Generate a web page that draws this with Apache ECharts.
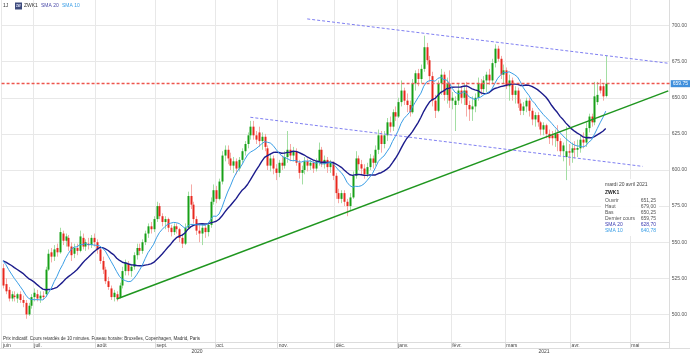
<!DOCTYPE html>
<html>
<head>
<meta charset="utf-8">
<title>ZWK1</title>
<script src="https://cdn.jsdelivr.net/npm/echarts@6/dist/echarts.min.js"></script>
<style>
    html, body { margin: 0; padding: 0; background: #fff; }
    #chart { width: 690px; height: 354px; }
</style>
</head>
<body>
<div id="chart"></div>
<script>
'use strict';

// first session shown and the sessions after the last quote (empty space on the right)
var firstDay = '2020-06-16';
var lastAxisDay = '2021-05-20';
var holidays = ['2020-07-03', '2020-09-07', '2020-11-26', '2020-12-25', '2021-01-01',
    '2021-01-18', '2021-02-15', '2021-04-02'];

var monthNames = ['janv.', 'févr.', 'mars', 'avr.', 'mai', 'juin', 'juil.', 'août', 'sept.', 'oct.', 'nov.', 'déc.'];
var dayNames = ['dimanche', 'lundi', 'mardi', 'mercredi', 'jeudi', 'vendredi', 'samedi'];
var longMonths = ['janvier', 'février', 'mars', 'avril', 'mai', 'juin', 'juillet', 'août', 'septembre', 'octobre', 'novembre', 'décembre'];

// closes of the 19 sessions before the first one shown (only used for the averages)
var earlierCloses = [532, 535, 538, 541, 540, 537, 534, 538, 540, 535, 542, 546, 545, 542, 540, 538, 536, 533, 529];

// daily candles: [open, close, low, high]
var candles = [
    // juin
    [532, 520, 518, 535], [521, 516, 514, 525], [517, 511, 509, 519], [511, 514, 509, 516], [513, 512, 509, 516],
    [511, 514, 508, 515], [514, 510, 508, 516], [510, 508, 505, 513], [508, 500, 497, 510], [500, 506, 499, 508],
    [506, 512, 504, 514],
    // juil.
    [512, 515, 509, 518], [514, 511, 509, 517], [511, 513, 508, 516], [513, 512, 510, 516], [514, 531, 512, 533],
    [531, 542, 530, 545], [543, 540, 536, 546], [540, 545, 537, 548], [546, 543, 540, 549], [543, 557, 542, 560],
    [556, 551, 548, 558], [551, 554, 547, 556], [553, 547, 544, 555], [547, 541, 537, 550], [542, 546, 539, 549],
    [546, 544, 541, 549], [544, 554, 543, 558], [553, 547, 545, 556], [547, 550, 544, 552], [549, 548, 545, 553],
    [548, 553, 546, 555], [553, 550, 547, 556],
    // août
    [550, 545, 542, 552], [545, 537, 535, 547], [537, 531, 528, 540], [531, 523, 521, 533], [523, 519, 517, 526],
    [518, 512, 510, 520], [512, 515, 509, 517], [514, 511, 509, 516], [512, 520, 511, 522], [520, 530, 518, 533],
    [530, 536, 527, 538], [535, 530, 527, 537], [530, 533, 526, 535], [533, 541, 531, 543], [541, 546, 538, 549],
    [546, 544, 541, 549], [544, 550, 542, 552], [550, 556, 548, 558], [556, 561, 553, 563], [561, 559, 556, 564],
    [559, 566, 557, 568],
    // sept.
    [566, 575, 564, 578], [575, 568, 566, 577], [568, 564, 561, 570], [564, 566, 559, 568], [566, 560, 557, 567],
    [560, 557, 554, 562], [557, 561, 555, 563], [561, 559, 556, 563], [559, 553, 550, 560], [553, 549, 546, 555],
    [549, 560, 548, 563], [560, 582, 559, 585], [582, 576, 573, 590], [576, 566, 563, 578], [566, 558, 555, 568],
    [558, 556, 550, 562], [556, 560, 548, 563], [560, 557, 553, 562], [557, 562, 554, 564], [562, 578, 560, 581],
    [578, 586, 576, 590],
    // oct.
    [586, 580, 577, 589], [580, 592, 579, 594], [592, 610, 590, 613], [610, 614, 606, 617], [614, 608, 604, 617],
    [608, 603, 600, 612], [603, 606, 598, 609], [606, 601, 597, 608], [601, 607, 599, 609], [607, 613, 605, 615],
    [613, 618, 610, 620], [618, 624, 615, 626], [624, 630, 621, 634], [630, 624, 621, 634], [624, 621, 618, 627],
    [626, 620, 616, 630], [620, 623, 614, 626], [623, 616, 613, 625], [615, 603, 600, 617], [603, 608, 599, 611],
    [608, 601, 597, 610], [601, 598, 593, 604],
    // nov.
    [598, 605, 595, 607], [605, 603, 600, 610], [603, 609, 601, 613], [609, 614, 605, 627], [614, 610, 606, 618],
    [610, 613, 606, 616], [613, 605, 603, 615], [605, 598, 594, 607], [598, 600, 590, 603], [600, 606, 597, 609],
    [606, 603, 599, 608], [603, 605, 600, 607], [605, 601, 598, 607], [601, 606, 599, 608], [606, 614, 603, 619],
    [614, 604, 602, 616], [604, 607, 601, 610], [607, 602, 598, 609], [602, 605, 598, 607], [605, 596, 593, 606],
    // déc.
    [596, 584, 580, 598], [584, 580, 577, 587], [580, 584, 577, 586], [584, 578, 575, 586], [578, 575, 568, 580],
    [575, 581, 572, 584], [581, 596, 580, 599], [596, 608, 594, 613], [608, 604, 600, 610], [604, 601, 597, 607],
    [601, 597, 594, 604], [597, 602, 595, 605], [602, 608, 600, 611], [608, 605, 601, 610], [605, 614, 603, 617],
    [614, 624, 611, 628], [624, 618, 612, 627], [618, 624, 615, 627], [624, 633, 620, 636], [633, 630, 626, 637],
    [630, 640, 627, 642], [640, 637, 634, 644],
    // janv.
    [637, 647, 636, 650], [647, 655, 644, 662], [655, 648, 645, 657], [648, 645, 640, 653], [645, 640, 637, 648],
    [640, 660, 639, 663], [660, 667, 655, 669], [667, 663, 658, 670], [663, 670, 660, 673], [670, 685, 668, 693],
    [685, 676, 673, 688], [676, 665, 661, 679], [665, 648, 644, 668], [648, 641, 636, 652], [641, 660, 640, 662],
    [660, 666, 652, 670], [666, 652, 648, 668], [652, 660, 646, 664], [660, 648, 643, 669],
    // févr.
    [648, 650, 642, 654], [645, 648, 627, 651], [648, 655, 645, 660], [655, 650, 646, 658], [650, 655, 645, 660],
    [655, 645, 637, 661], [645, 642, 634, 648], [642, 644, 634, 651], [644, 650, 640, 653], [650, 660, 648, 664],
    [660, 656, 652, 663], [656, 662, 653, 665], [662, 666, 654, 668], [666, 662, 659, 670], [662, 674, 660, 677],
    [674, 684, 671, 687], [684, 677, 675, 686], [677, 666, 663, 679], [666, 669, 660, 673],
    // mars
    [669, 658, 656, 671], [658, 662, 648, 666], [662, 652, 648, 664], [652, 655, 646, 658], [655, 646, 643, 657],
    [646, 641, 638, 649], [641, 644, 638, 647], [644, 648, 640, 650], [648, 641, 637, 650], [641, 635, 631, 643],
    [635, 638, 630, 640], [638, 633, 630, 640], [633, 628, 624, 634], [628, 631, 624, 633], [631, 625, 622, 632],
    [625, 622, 618, 628], [624, 622, 617, 627], [622, 625, 616, 628], [625, 620, 613, 631], [620, 613, 610, 622],
    [613, 617, 606, 619], [609, 613, 593, 630], [613, 612, 603, 618],
    // avr.
    [612, 615, 605, 619], [615, 614, 608, 620], [614, 615.25, 609, 621], [615, 621, 612, 624], [621, 619, 615, 626],
    [619, 629, 616, 633], [629, 637, 626, 639], [637, 633, 630, 639], [633, 651, 631, 661], [647, 652, 645, 661],
    [658, 655, 653, 663], [658, 651, 648, 660], [651.25, 659.75, 650.25, 679]
];

// hand drawn lines, [session index, price] at both ends
var upperChannel = [[107, 704.6], [234, 673.9]];
var lowerChannel = [[87, 636.5], [225, 602.5]];
var supportLine = [[40, 510.7], [234, 654.8]];

var priceTicks = [500, 525, 550, 575, 600, 625, 650, 675, 700];

var upBody = '#17a017', upWick = '#a3dea3';
var downBody = '#e8281e', downWick = '#f6aaa6';
var sma20Color = '#1c1c8c', sma10Color = '#3a9ee6';
var lastLineColor = '#ee554c';

function pad(n) {
    return (n < 10 ? '0' : '') + n;
}

function tradingDays(from, to) {
    var out = [];
    var d = new Date(from + 'T12:00:00Z');
    var end = new Date(to + 'T12:00:00Z');
    while (d <= end) {
        var key = d.getUTCFullYear() + '-' + pad(d.getUTCMonth() + 1) + '-' + pad(d.getUTCDate());
        var wd = d.getUTCDay();
        if (wd !== 0 && wd !== 6 && holidays.indexOf(key) < 0) {
            out.push(key);
        }
        d.setUTCDate(d.getUTCDate() + 1);
    }
    return out;
}

var days = tradingDays(firstDay, lastAxisDay);

function isMonthStart(index) {
    if (index === 0) return true;
    return days[index].slice(5, 7) !== days[index - 1].slice(5, 7);
}

function movingAverage(n) {
    var closes = earlierCloses.concat(candles.map(function(c) { return c[1]; }));
    var skip = earlierCloses.length;
    var out = [];
    for (var i = 0; i < candles.length; i++) {
        var sum = 0;
        for (var k = 0; k < n; k++) {
            sum += closes[skip + i - k];
        }
        out.push(+(sum / n).toFixed(4));
    }
    return out;
}

var sma20 = movingAverage(20);
var sma10 = movingAverage(10);

function frNumber(v) {
    return (Math.round(v * 100 + 1e-6) / 100).toFixed(2).replace('.', ',');
}

function renderCandle(params, api) {
    var i = api.value(0);
    var open = api.value(1), close = api.value(2);
    var top = api.coord([i, api.value(4)]);
    var bottom = api.coord([i, api.value(3)]);
    var pOpen = api.coord([i, open]);
    var pClose = api.coord([i, close]);
    var w = Math.max(1.6, api.size([1, 0])[0] * 0.7);
    var x = Math.round(top[0]) + 0.5;
    var up = close >= open;
    var y0 = Math.min(pOpen[1], pClose[1]);
    var h = Math.max(1, Math.abs(pOpen[1] - pClose[1]));
    return {
        type: 'group',
        children: [{
            type: 'line',
            shape: { x1: x, y1: top[1], x2: x, y2: bottom[1] },
            style: { stroke: up ? upWick : downWick, lineWidth: 1 }
        }, {
            type: 'rect',
            shape: { x: x - w / 2, y: y0, width: w, height: h },
            style: { fill: up ? upBody : downBody }
        }]
    };
}

var last = candles[candles.length - 1];
var lastDate = new Date(days[candles.length - 1] + 'T12:00:00Z');
var lastTitle = dayNames[lastDate.getUTCDay()] + ' ' + lastDate.getUTCDate() + ' ' +
    longMonths[lastDate.getUTCMonth()] + ' ' + lastDate.getUTCFullYear();

var font = '"Liberation Sans", Arial, sans-serif';

function label(text, x, y, color, size, extra) {
    var style = { text: text, fill: color || '#333', font: (size || 5) + 'px ' + font, verticalAlign: 'middle' };
    if (extra) {
        for (var k in extra) style[k] = extra[k];
    }
    return { type: 'text', x: x, y: y, z: 20, style: style };
}

// box with the values of the last session
var infoRows = [
    ['Ouvrir', frNumber(last[0]), '#555'],
    ['Haut', frNumber(last[3]), '#555'],
    ['Bas', frNumber(last[2]), '#555'],
    ['Dernier cours', frNumber(last[1]), '#555'],
    ['SMA 20', frNumber(sma20[sma20.length - 1]), '#3b3bb0'],
    ['SMA 10', frNumber(sma10[sma10.length - 1]), '#3a9ee6']
];

var infoBox = [
    { type: 'rect', x: 601, y: 179, z: 19, shape: { width: 58, height: 57 }, style: { fill: 'rgba(255,255,255,0.92)' } },
    label(lastTitle, 605, 185, '#444', 5),
    label('ZWK1', 605, 193, '#222', 5, { font: 'bold 5px ' + font })
];
infoRows.forEach(function(row, k) {
    infoBox.push(label(row[0], 605, 201 + k * 6, row[2], 5));
    infoBox.push(label(row[1], 656, 201 + k * 6, row[2], 5, { align: 'right' }));
});

var header = [
    label('1J', 3, 6, '#333', 5),
    { type: 'rect', x: 15, y: 2.5, z: 20, shape: { width: 7, height: 7 }, style: { fill: '#3d4a7c' } },
    label('ZW', 16, 6, '#e8ecff', 3, { font: 'bold 3px ' + font }),
    label('ZWK1', 24, 6, '#333', 5),
    label('SMA 20', 41, 6, '#4a4aa8', 5),
    label('SMA 10', 62, 6, '#3a9ee6', 5)
];

var footer = [
    label('Prix indicatif. Cours retardés de 10 minutes. Fuseau horaire: Bruxelles, Copenhagen, Madrid, Paris', 3, 339, '#333', 4.5),
    { type: 'line', z: 20, shape: { x1: 0, y1: 348.5, x2: 690, y2: 348.5 }, style: { stroke: '#ddd', lineWidth: 1 } },
    label('2020', 197, 351.5, '#444', 5, { align: 'center' }),
    label('2021', 544, 351.5, '#444', 5, { align: 'center' })
];

var chart = echarts.init(document.getElementById('chart'));

var option = {
    animation: false,
    backgroundColor: '#fff',
    textStyle: { fontFamily: font },
    grid: { left: 0, right: 18, top: 0, bottom: 12 },
    xAxis: {
        type: 'category',
        data: days,
        boundaryGap: true,
        axisLine: { show: true, lineStyle: { color: '#dcdcdc' } },
        axisTick: { show: true, interval: isMonthStart, length: 6, lineStyle: { color: '#dcdcdc' } },
        axisLabel: {
            interval: isMonthStart,
            align: 'left',
            margin: 1,
            fontSize: 5,
            color: '#444',
            formatter: function(v) { return monthNames[+v.slice(5, 7) - 1]; }
        },
        splitLine: { show: true, interval: isMonthStart, lineStyle: { color: '#e8e8e8' } }
    },
    yAxis: {
        type: 'value',
        position: 'right',
        min: 480.9,
        max: 717.7,
        axisLine: { show: true, lineStyle: { color: '#dcdcdc' } },
        axisTick: { show: false, customValues: priceTicks },
        axisLabel: {
            customValues: priceTicks,
            margin: 2,
            fontSize: 5,
            color: '#555',
            formatter: function(v) { return v.toFixed(2); }
        },
        splitLine: { show: true, lineStyle: { color: '#e8e8e8' } }
    },
    series: [{
        name: 'ZWK1',
        type: 'custom',
        renderItem: renderCandle,
        clip: true,
        encode: { x: 0, y: [1, 2, 3, 4] },
        data: candles.map(function(c, i) { return [i, c[0], c[1], c[2], c[3]]; })
    }, {
        name: 'SMA 20',
        type: 'line',
        data: sma20,
        showSymbol: false,
        lineStyle: { color: sma20Color, width: 1.4 },
        z: 3
    }, {
        name: 'SMA 10',
        type: 'line',
        data: sma10,
        showSymbol: false,
        lineStyle: { color: sma10Color, width: 1 },
        z: 3
    }, {
        name: 'upper',
        type: 'line',
        data: upperChannel,
        showSymbol: false,
        lineStyle: { color: '#7f7ff2', type: [3, 2], width: 1 },
        z: 4
    }, {
        name: 'lower',
        type: 'line',
        data: lowerChannel,
        showSymbol: false,
        lineStyle: { color: '#7f7ff2', type: [3, 2], width: 1 },
        z: 4
    }, {
        name: 'support',
        type: 'line',
        data: supportLine,
        showSymbol: false,
        lineStyle: { color: '#1f961f', width: 1.5 },
        z: 4
    }, {
        // last price line with its badge on the price axis
        name: 'dernier',
        type: 'line',
        data: [],
        color: lastLineColor,
        z: 2,
        markLine: {
            silent: true,
            symbol: 'none',
            lineStyle: { color: lastLineColor, type: [3, 2], width: 1.3, opacity: 1 },
            label: {
                show: true,
                position: 'end',
                distance: 1,
                formatter: function(p) { return p.value.toFixed(2); },
                backgroundColor: '#3f8fdc',
                color: '#fff',
                fontSize: 5,
                padding: [1, 2]
            },
            data: [{ yAxis: last[1] }]
        }
    }],
    graphic: header.concat(infoBox, footer)
};

chart.setOption(option);
</script>
</body>
</html>
